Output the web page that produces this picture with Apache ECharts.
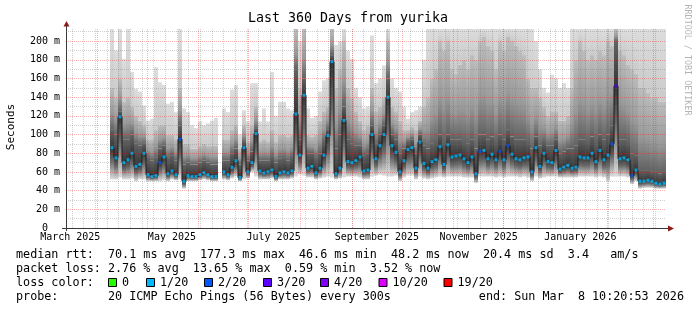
<!DOCTYPE html>
<html><head><meta charset="utf-8">
<script src="https://cdn.jsdelivr.net/npm/echarts@6/dist/echarts.min.js"></script>
<style>html,body{margin:0;padding:0;background:#fff;}#c{width:697px;height:310px;}</style>
</head><body><div id="c"></div>
<script>
// ---------- data ----------
const endTime = Date.UTC(2026, 2, 8, 10, 20, 53);
const spanDays = 360;
const stepDays = 2.4;          // one column = 2.4 days (150 columns)
const yMax = 214;
const yTickValues = [0, 20, 40, 60, 80, 100, 120, 140, 160, 180, 200];
const yMinorValues = [10, 30, 50, 70, 90, 110, 130, 150, 170, 190, 210];
const xLabelDates = [[2025, 2, 16], [2025, 4, 16], [2025, 6, 16], [2025, 8, 16], [2025, 10, 16], [2026, 0, 16]];
const xLabelTexts = ['March 2025', 'May 2025', 'July 2025', 'September 2025', 'November 2025', 'January 2026'];

// smoke bottom (lowest ping), ms
const smokeLow = [
 null,null,null,null,null,null,null,null,null,null,
 null,52,52,54,52,52,53,50,52,52,
 50,50,50,50,51,50,52,51,52,42,
 50,50,50,51,52,51,50,50,null,52,
 51,53,55,50,52,53,60,55,52,52,
 52,53,50,52,52,52,53,55,57,56,
 54,54,52,53,54,55,54,52,53,54,
 55,55,55,54,52,52,55,56,57,56,
 55,55,56,50,54,56,56,52,55,53,
 52,53,54,55,54,55,55,55,55,54,
 54,54,48,55,55,55,55,54,55,54,
 55,55,55,54,55,54,50,55,53,54,
 55,55,55,54,54,54,54,54,55,55,
 55,55,54,55,54,50,55,55,55,55,
 54,47,50,42,43,43,43,42,42,42];
// median rtt, ms
const medianRtt = [
 null,null,null,null,null,null,null,null,null,null,
 null,86,75,119,70,73,80,66,68,80,
 57,55,56,70,76,58,61,57,95,50,
 56,55,55,57,59,57,55,55,null,60,
 57,65,72,54,86,60,70,101,61,59,
 60,62,55,59,60,59,61,122,78,142,
 64,66,59,64,78,99,178,58,64,115,
 71,70,72,76,61,62,100,74,88,100,
 140,88,81,60,72,84,86,64,92,69,
 64,71,73,87,68,89,76,77,78,74,
 70,76,58,82,83,74,79,73,82,73,
 88,79,74,73,75,76,60,86,66,80,
 71,70,83,63,65,67,64,65,76,75,
 75,80,71,83,73,78,90,152,74,75,
 73,56,62,50,50,51,50,48,47,48];
// top of the dark smoke band, ms
const smokeDark = [
 null,null,null,null,null,null,null,null,null,null,
 null,105,100,125,95,95,100,90,88,90,
 75,72,75,85,88,75,78,72,110,68,
 70,68,68,70,72,70,68,68,null,72,
 72,80,85,68,92,72,82,106,72,72,
 72,76,70,74,75,72,76,170,95,160,
 80,80,75,80,92,105,185,85,100,130,
 95,90,88,88,78,80,110,90,100,110,
 160,100,95,80,85,92,95,80,100,88,
 85,90,92,100,92,100,95,95,95,92,
 90,95,85,100,100,95,98,92,100,95,
 105,98,95,95,95,92,85,98,88,92,
 88,88,95,80,82,85,85,88,95,95,
 92,98,92,100,95,100,110,200,95,95,
 92,80,78,62,62,62,60,60,58,60];
// top of the mid-grey smoke band, ms
const smokeMid = [
 null,null,null,null,null,null,null,null,null,null,
 null,150,140,160,135,140,130,120,115,110,
 95,95,105,110,110,100,100,95,150,90,
 90,85,85,88,90,88,88,88,null,95,
 95,105,110,85,110,92,110,130,92,95,
 92,105,92,100,100,98,100,213,150,213,
 100,98,100,115,125,130,213,150,170,200,
 150,140,125,115,105,110,150,125,130,140,
 200,130,125,115,105,105,108,105,115,130,
 140,160,170,200,190,200,170,165,175,180,
 170,185,180,200,205,195,190,170,200,190,
 205,200,195,190,185,160,150,150,140,130,
 120,125,125,115,115,120,150,180,200,190,
 180,185,180,190,185,200,195,213,190,185,
 175,170,165,150,150,145,140,140,135,135];
// smoke top (highest ping, clipped at graph top), ms
const smokeHigh = [
 null,null,null,null,null,null,null,null,null,null,
 null,213,190,213,181,213,167,149,146,131,
 115,117,172,156,153,133,135,124,213,128,
 124,110,107,114,110,112,115,118,null,128,
 124,148,153,100,126,114,155,155,114,128,
 114,167,120,135,135,128,126,213,200,213,
 128,118,120,146,158,160,213,196,200,213,
 190,181,150,140,128,130,206,155,160,174,
 213,160,150,146,130,117,124,126,130,180,
 213,213,213,213,213,213,213,213,213,213,
 213,213,213,213,213,213,213,213,213,213,
 213,213,213,213,213,213,213,200,170,150,
 145,164,160,150,155,150,213,213,213,213,
 213,213,213,213,213,213,213,213,213,213,
 213,213,213,213,213,213,213,213,213,213];
// loss bucket of the median marker (1 = 1/20, 2 = 2/20, 3 = 3/20)
const lossBucket = [
 0,0,0,0,0,0,0,0,0,0,
 0,1,1,1,1,1,1,1,1,1,
 1,1,1,2,1,1,1,1,2,1,
 1,1,1,1,1,1,1,1,0,1,
 1,1,1,1,1,1,1,1,1,1,
 1,1,1,1,1,1,1,1,1,1,
 1,1,1,1,1,1,1,1,1,1,
 1,1,1,1,1,1,1,1,1,1,
 1,1,1,1,1,1,1,1,1,1,
 1,1,1,1,1,1,1,1,1,1,
 1,1,1,2,1,1,1,1,2,1,
 2,1,1,1,1,1,1,1,1,1,
 1,1,1,1,1,1,1,1,1,1,
 1,1,1,1,1,1,2,3,1,1,
 1,2,1,1,1,1,1,1,1,1];

const legendItems = ['0', '1/20', '2/20', '3/20', '4/20', '10/20', '19/20'];
const legendColors = ['#26ff00', '#00b8ff', '#0059ff', '#5e00ff', '#7e00ff', '#dd00ff', '#ff0000'];
const statLine1 = 'median rtt:  70.1 ms avg  177.3 ms max  46.6 ms min  48.2 ms now  20.4 ms sd  3.4   am/s';
const statLine2 = 'packet loss: 2.76 % avg  13.65 % max  0.59 % min  3.52 % now';
const probeLine = 'probe:       20 ICMP Echo Pings (56 Bytes) every 300s';
const endLine = 'end: Sun Mar  8 10:20:53 2026';
const titleText = 'Last 360 Days from yurika';

// ---------- build ----------
const DAY = 86400000;
const startTime = endTime - spanDays * DAY;
const MONO = '"DejaVu Sans Mono", "Liberation Mono", monospace';
const colT = i => startTime + (i + 0.5) * stepDays * DAY;

const smokeData = [], medLine = [], medDots = [];
for (let i = 0; i < medianRtt.length; i++) {
  const t = colT(i);
  if (medianRtt[i] == null) { medLine.push([t, '-']); continue; }
  smokeData.push([t, smokeLow[i], medianRtt[i], smokeDark[i], smokeMid[i], smokeHigh[i]]);
  medLine.push([t, medianRtt[i]]);
  medDots.push([t, medianRtt[i], lossBucket[i]]);
}

const xLabelValues = xLabelDates.map(d => Date.UTC(d[0], d[1], d[2]));
const monthStarts = [];
for (let m = 3; m <= 14; m++) monthStarts.push(Date.UTC(2025, m, 1));
const weekLines = [];
for (let t = Date.UTC(2025, 2, 17); t < endTime; t += 7 * DAY) weekLines.push(t);

const minorStyle = { color: 'rgba(110,110,110,0.32)', type: [1, 1], width: 1 };
const majorStyle = { color: 'rgba(255,0,0,0.3)', type: [1, 1], width: 1 };
const gridLines = [];
yMinorValues.forEach(v => gridLines.push({ yAxis: v, lineStyle: minorStyle }));
weekLines.forEach(t => gridLines.push({ xAxis: t, lineStyle: minorStyle }));
yTickValues.filter(v => v > 0).forEach(v => gridLines.push({ yAxis: v, lineStyle: majorStyle }));
monthStarts.forEach(t => gridLines.push({ xAxis: t, lineStyle: majorStyle }));

function grad(stops) {
  return new echarts.graphic.LinearGradient(0, 0, 0, 1, stops.map(c => ({ offset: c[0], color: c[1] })));
}
function renderSmoke(params, api) {
  const t = api.value(0);
  const half = stepDays * DAY / 2;
  const xa = Math.round(api.coord([t - half, 0])[0]);
  const xb = Math.round(api.coord([t + half, 0])[0]);
  const w = xb - xa;
  const Y = k => api.coord([t, api.value(k)])[1];
  const yLo = Y(1), yMed = Y(2), yDk = Y(3), yMid = Y(4), yMx = Y(5);
  const kids = [];
  const add = (top, bot, stops) => {
    if (bot - top > 0.01) kids.push({ type: 'rect', shape: { x: xa, y: top, width: w, height: bot - top }, style: { fill: grad(stops) } });
  };
  add(yMx, yMid, [[0, '#dddddd'], [1, '#cacaca']]);
  add(yMid, yDk, [[0, '#bdbdbd'], [0.6, '#999999'], [1, '#626262']]);
  add(yDk, yMed, [[0, '#626262'], [1, '#363636']]);
  add(yMed, yLo, [[0, '#363636'], [0.4, '#686868'], [0.75, '#ababab'], [1, '#dddddd']]);
  return { type: 'group', children: kids };
}

const AX = '#3a3a3a', ARROW = '#8e1a1a';
const graphics = [
  { type: 'text', x: 348, y: 19, style: { text: titleText, font: '13.3px ' + MONO, fill: '#000', align: 'center', verticalAlign: 'middle' } },
  { type: 'text', x: 11, y: 127, rotation: Math.PI / 2, style: { text: 'Seconds', font: '11px ' + MONO, fill: '#000', align: 'center', verticalAlign: 'middle' } },
  { type: 'text', x: 687, y: 60, rotation: -Math.PI / 2, style: { text: 'RRDTOOL / TOBI OETIKER', font: '8.4px ' + MONO, fill: '#b4b4b4', align: 'center', verticalAlign: 'middle' } },
  { type: 'line', shape: { x1: 66.5, y1: 26, x2: 66.5, y2: 231 }, style: { stroke: AX, lineWidth: 1 } },
  { type: 'line', shape: { x1: 62, y1: 228.5, x2: 669, y2: 228.5 }, style: { stroke: AX, lineWidth: 1 } },
  { type: 'polygon', shape: { points: [[63.5, 26.5], [69.5, 26.5], [66.5, 21]] }, style: { fill: ARROW } },
  { type: 'polygon', shape: { points: [[668, 225.5], [668, 231.5], [674, 228.5]] }, style: { fill: ARROW } },
  { type: 'text', x: 16, y: 254.5, style: { text: statLine1, font: '11.75px ' + MONO, fill: '#000', verticalAlign: 'middle' } },
  { type: 'text', x: 16, y: 268.5, style: { text: statLine2, font: '11.75px ' + MONO, fill: '#000', verticalAlign: 'middle' } },
  { type: 'text', x: 16, y: 282.5, style: { text: 'loss color:', font: '11.75px ' + MONO, fill: '#000', verticalAlign: 'middle' } },
  { type: 'text', x: 16, y: 296.5, style: { text: probeLine, font: '11.75px ' + MONO, fill: '#000', verticalAlign: 'middle' } },
  { type: 'text', x: 684, y: 296.5, style: { text: endLine, font: '11.75px ' + MONO, fill: '#000', align: 'right', verticalAlign: 'middle' } }
];
const boxX = [108.5, 146.5, 204.5, 263.5, 320.5, 379, 444];
legendItems.forEach((lab, k) => {
  graphics.push({ type: 'rect', shape: { x: boxX[k], y: 278.5, width: 8, height: 8 }, style: { fill: legendColors[k], stroke: '#000', lineWidth: 1 } });
  graphics.push({ type: 'text', x: boxX[k] + 13.5, y: 282.5, style: { text: lab, font: '11.75px ' + MONO, fill: '#000', verticalAlign: 'middle' } });
});

const chart = echarts.init(document.getElementById('c'), null, { renderer: 'canvas' });
chart.setOption({
  animation: false,
  backgroundColor: '#fff',
  grid: { left: 66, top: 28, width: 600, height: 200, containLabel: false },
  xAxis: {
    type: 'value', min: startTime, max: endTime, scale: true,
    axisLine: { show: false }, axisTick: { show: false }, splitLine: { show: false },
    axisLabel: {
      customValues: xLabelValues,
      formatter: v => { const k = xLabelValues.findIndex(x => Math.abs(x - v) < DAY); return k >= 0 ? xLabelTexts[k] : ''; },
      fontFamily: MONO, fontSize: 10, color: '#000', margin: 4, hideOverlap: false
    }
  },
  yAxis: {
    type: 'value', min: 0, max: yMax, interval: 20,
    axisLine: { show: false }, axisTick: { show: false }, splitLine: { show: false },
    axisLabel: {
      formatter: v => (v % 20 !== 0 || v > 200) ? '' : (v === 0 ? '0  ' : v + ' m'),
      fontFamily: MONO, fontSize: 10, color: '#000', margin: 6, showMaxLabel: false
    }
  },
  series: [
    { type: 'custom', z: 1, renderItem: renderSmoke, data: smokeData, encode: { x: 0, y: [1, 5] }, clip: true, silent: true },
    { type: 'line', z: 2, data: medLine, step: 'middle', showSymbol: false, lineStyle: { color: '#1a1a1a', width: 1 }, connectNulls: false, silent: true,
      markLine: { silent: true, symbol: ['none', 'none'], label: { show: false }, animation: false, z: 3, data: gridLines } },
    { type: 'scatter', z: 4, data: medDots, symbol: 'rect', symbolSize: [3, 3], silent: true,
      itemStyle: { color: p => legendColors[p.data[2]] } }
  ],
  graphic: graphics
});
</script></body></html>
